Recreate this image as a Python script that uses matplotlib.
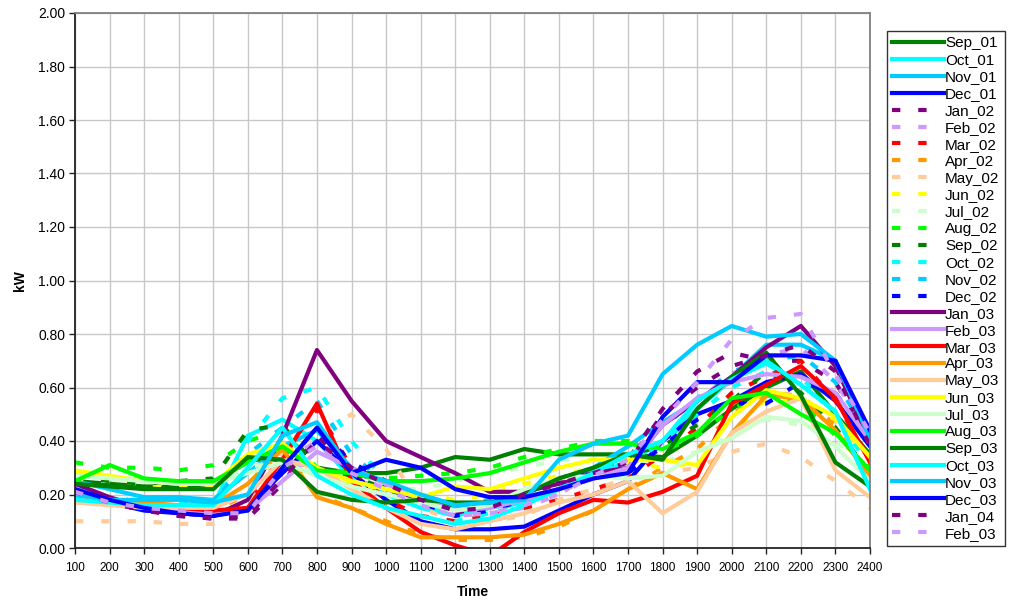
import numpy as np
import matplotlib
matplotlib.use('Agg')
import matplotlib.pyplot as plt
from matplotlib.ticker import FormatStrFormatter

plt.rcParams['font.family'] = ['Liberation Sans', 'DejaVu Sans']

# hours of the day
times = list(range(100, 2500, 100))

# average daily load profiles (kW)
sep_01 = [0.25, 0.24, 0.23, 0.23, 0.24, 0.33, 0.33, 0.30, 0.28, 0.28, 0.30, 0.34, 0.33, 0.37, 0.35, 0.35, 0.35, 0.34, 0.42, 0.52, 0.60, 0.66, 0.50, 0.35]
oct_01 = [0.19, 0.17, 0.16, 0.15, 0.16, 0.42, 0.48, 0.40, 0.26, 0.20, 0.15, 0.12, 0.15, 0.17, 0.22, 0.28, 0.32, 0.40, 0.52, 0.63, 0.69, 0.61, 0.51, 0.22]
nov_01 = [0.25, 0.22, 0.19, 0.19, 0.18, 0.28, 0.38, 0.44, 0.30, 0.24, 0.20, 0.15, 0.16, 0.18, 0.22, 0.30, 0.38, 0.47, 0.55, 0.64, 0.76, 0.76, 0.70, 0.41]
dec_01 = [0.21, 0.17, 0.14, 0.13, 0.12, 0.15, 0.28, 0.40, 0.28, 0.18, 0.10, 0.07, 0.07, 0.08, 0.14, 0.20, 0.25, 0.40, 0.50, 0.55, 0.62, 0.65, 0.55, 0.38]
jan_02 = [0.22, 0.18, 0.15, 0.12, 0.11, 0.11, 0.24, 0.42, 0.30, 0.22, 0.18, 0.13, 0.16, 0.21, 0.25, 0.30, 0.33, 0.52, 0.66, 0.73, 0.70, 0.70, 0.62, 0.40]
feb_02 = [0.20, 0.17, 0.15, 0.14, 0.13, 0.13, 0.32, 0.40, 0.26, 0.22, 0.17, 0.12, 0.13, 0.15, 0.20, 0.28, 0.30, 0.40, 0.55, 0.65, 0.72, 0.75, 0.62, 0.42]
mar_02 = [0.20, 0.18, 0.16, 0.15, 0.14, 0.16, 0.35, 0.52, 0.30, 0.18, 0.12, 0.10, 0.12, 0.15, 0.18, 0.22, 0.26, 0.35, 0.45, 0.58, 0.64, 0.70, 0.55, 0.33]
apr_02 = [0.22, 0.19, 0.17, 0.15, 0.14, 0.20, 0.38, 0.20, 0.15, 0.10, 0.05, 0.03, 0.03, 0.04, 0.08, 0.14, 0.22, 0.30, 0.37, 0.50, 0.58, 0.57, 0.46, 0.28]
may_02 = [0.10, 0.10, 0.10, 0.09, 0.09, 0.16, 0.35, 0.42, 0.50, 0.37, 0.15, 0.10, 0.10, 0.12, 0.18, 0.22, 0.26, 0.28, 0.30, 0.36, 0.39, 0.34, 0.25, 0.15]
jun_02 = [0.28, 0.26, 0.24, 0.23, 0.23, 0.32, 0.38, 0.30, 0.24, 0.22, 0.20, 0.18, 0.20, 0.24, 0.27, 0.30, 0.32, 0.30, 0.32, 0.42, 0.56, 0.55, 0.48, 0.33]
jul_02 = [0.26, 0.25, 0.24, 0.24, 0.24, 0.30, 0.33, 0.28, 0.25, 0.22, 0.22, 0.25, 0.28, 0.30, 0.33, 0.33, 0.33, 0.32, 0.36, 0.42, 0.48, 0.46, 0.40, 0.30]
aug_02 = [0.32, 0.30, 0.30, 0.29, 0.31, 0.40, 0.44, 0.30, 0.28, 0.26, 0.27, 0.28, 0.30, 0.34, 0.37, 0.40, 0.40, 0.36, 0.42, 0.52, 0.57, 0.55, 0.42, 0.30]
sep_02 = [0.27, 0.25, 0.24, 0.25, 0.26, 0.44, 0.46, 0.30, 0.27, 0.22, 0.18, 0.15, 0.16, 0.20, 0.25, 0.30, 0.35, 0.38, 0.46, 0.55, 0.66, 0.58, 0.45, 0.28]
oct_02 = [0.20, 0.18, 0.17, 0.17, 0.16, 0.40, 0.56, 0.60, 0.40, 0.25, 0.18, 0.10, 0.13, 0.18, 0.22, 0.28, 0.30, 0.40, 0.50, 0.60, 0.66, 0.64, 0.50, 0.30]
nov_02 = [0.22, 0.19, 0.17, 0.16, 0.16, 0.35, 0.45, 0.55, 0.35, 0.24, 0.20, 0.16, 0.18, 0.22, 0.26, 0.30, 0.38, 0.45, 0.56, 0.66, 0.70, 0.72, 0.62, 0.42]
dec_02 = [0.21, 0.17, 0.14, 0.13, 0.12, 0.14, 0.30, 0.45, 0.32, 0.25, 0.17, 0.12, 0.14, 0.18, 0.22, 0.26, 0.28, 0.38, 0.48, 0.54, 0.54, 0.62, 0.58, 0.40]
jan_03 = [0.24, 0.19, 0.15, 0.13, 0.12, 0.18, 0.42, 0.74, 0.55, 0.40, 0.34, 0.28, 0.21, 0.21, 0.24, 0.28, 0.30, 0.46, 0.55, 0.64, 0.75, 0.83, 0.68, 0.40]
feb_03 = [0.20, 0.17, 0.15, 0.14, 0.13, 0.14, 0.25, 0.36, 0.30, 0.24, 0.18, 0.14, 0.15, 0.18, 0.22, 0.26, 0.30, 0.46, 0.56, 0.62, 0.65, 0.64, 0.58, 0.40]
mar_03 = [0.20, 0.18, 0.16, 0.15, 0.14, 0.15, 0.33, 0.54, 0.25, 0.15, 0.06, 0.01, -0.03, 0.06, 0.13, 0.18, 0.17, 0.21, 0.27, 0.54, 0.61, 0.68, 0.56, 0.32]
apr_03 = [0.20, 0.18, 0.17, 0.16, 0.16, 0.24, 0.37, 0.19, 0.15, 0.09, 0.04, 0.04, 0.04, 0.05, 0.09, 0.14, 0.22, 0.28, 0.22, 0.43, 0.57, 0.56, 0.44, 0.27]
may_03 = [0.17, 0.16, 0.15, 0.15, 0.15, 0.20, 0.33, 0.30, 0.22, 0.15, 0.09, 0.07, 0.10, 0.13, 0.17, 0.20, 0.25, 0.13, 0.21, 0.43, 0.51, 0.56, 0.29, 0.19]
jun_03 = [0.29, 0.27, 0.25, 0.24, 0.24, 0.35, 0.39, 0.30, 0.25, 0.22, 0.19, 0.23, 0.22, 0.26, 0.30, 0.33, 0.33, 0.33, 0.31, 0.49, 0.59, 0.56, 0.49, 0.34]
jul_03 = [0.27, 0.26, 0.25, 0.24, 0.24, 0.28, 0.32, 0.27, 0.23, 0.20, 0.17, 0.14, 0.16, 0.22, 0.26, 0.27, 0.26, 0.27, 0.36, 0.41, 0.49, 0.475, 0.38, 0.25]
aug_03 = [0.25, 0.31, 0.26, 0.25, 0.25, 0.32, 0.38, 0.29, 0.28, 0.25, 0.25, 0.26, 0.28, 0.32, 0.36, 0.39, 0.39, 0.37, 0.43, 0.56, 0.58, 0.50, 0.43, 0.29]
sep_03 = [0.24, 0.23, 0.22, 0.22, 0.22, 0.34, 0.33, 0.21, 0.18, 0.17, 0.18, 0.17, 0.17, 0.20, 0.26, 0.30, 0.35, 0.33, 0.52, 0.64, 0.73, 0.57, 0.32, 0.23]
oct_03 = [0.18, 0.17, 0.16, 0.16, 0.16, 0.30, 0.45, 0.27, 0.20, 0.15, 0.12, 0.09, 0.11, 0.16, 0.22, 0.28, 0.35, 0.40, 0.55, 0.63, 0.70, 0.61, 0.51, 0.22]
nov_03 = [0.20, 0.18, 0.18, 0.18, 0.17, 0.20, 0.42, 0.47, 0.29, 0.25, 0.20, 0.16, 0.17, 0.18, 0.33, 0.39, 0.42, 0.65, 0.76, 0.83, 0.79, 0.80, 0.70, 0.41]
dec_03 = [0.22, 0.18, 0.15, 0.13, 0.12, 0.14, 0.30, 0.45, 0.28, 0.33, 0.30, 0.22, 0.19, 0.19, 0.22, 0.26, 0.28, 0.49, 0.62, 0.62, 0.72, 0.72, 0.70, 0.44]
jan_04 = [0.21, 0.17, 0.14, 0.12, 0.11, 0.12, 0.26, 0.40, 0.30, 0.24, 0.18, 0.14, 0.15, 0.20, 0.24, 0.28, 0.32, 0.50, 0.60, 0.68, 0.72, 0.76, 0.66, 0.38]
feb_03b = [0.21, 0.17, 0.15, 0.14, 0.13, 0.13, 0.30, 0.38, 0.28, 0.22, 0.16, 0.12, 0.13, 0.16, 0.20, 0.27, 0.33, 0.48, 0.62, 0.78, 0.86, 0.875, 0.65, 0.43]

labels = ['Sep_01', 'Oct_01', 'Nov_01', 'Dec_01',
          'Jan_02', 'Feb_02', 'Mar_02', 'Apr_02', 'May_02', 'Jun_02',
          'Jul_02', 'Aug_02', 'Sep_02', 'Oct_02', 'Nov_02', 'Dec_02',
          'Jan_03', 'Feb_03', 'Mar_03', 'Apr_03', 'May_03', 'Jun_03',
          'Jul_03', 'Aug_03', 'Sep_03', 'Oct_03', 'Nov_03', 'Dec_03',
          'Jan_04', 'Feb_03']
series = [sep_01, oct_01, nov_01, dec_01,
          jan_02, feb_02, mar_02, apr_02, may_02, jun_02,
          jul_02, aug_02, sep_02, oct_02, nov_02, dec_02,
          jan_03, feb_03, mar_03, apr_03, may_03, jun_03,
          jul_03, aug_03, sep_03, oct_03, nov_03, dec_03,
          jan_04, feb_03b]

# colour per calendar month (Excel palette)
month_colors = {'Jan': '#800080', 'Feb': '#CC99FF', 'Mar': '#FF0000', 'Apr': '#FF9900',
                'May': '#FFCC99', 'Jun': '#FFFF00', 'Jul': '#CCFFCC', 'Aug': '#00FF00',
                'Sep': '#008000', 'Oct': '#00FFFF', 'Nov': '#00CCFF', 'Dec': '#0000FF'}
dashed_idx = set(range(4, 16)) | {28, 29}

fig = plt.figure(figsize=(10.17, 6.03), dpi=100)
ax = fig.add_axes([75 / 1017, 55 / 603, 795 / 1017, 535 / 603])

for i, (lab, vals) in enumerate(zip(labels, series)):
    col = month_colors[lab[:3]]
    if i in dashed_idx:
        ax.plot(times, vals, color=col, lw=3, dashes=(2, 4.3), label=lab, zorder=2 + i * 0.01)
    else:
        ax.plot(times, vals, color=col, lw=3, solid_joinstyle='round', label=lab, zorder=2 + i * 0.01)

ax.set_xlim(100, 2400)
ax.set_ylim(0, 2.0)
ax.set_xticks(times)
ax.set_yticks(np.arange(0, 2.01, 0.2))
ax.yaxis.set_major_formatter(FormatStrFormatter('%.2f'))
ax.tick_params(axis='x', labelsize=8.5, length=4, width=1, color='#222222', pad=6)
ax.tick_params(axis='y', labelsize=10, length=4, width=1, color='#222222', pad=3)
ax.grid(True, color='#c8c8c8', linewidth=1)
ax.set_axisbelow(True)

for side in ['left', 'bottom']:
    ax.spines[side].set_color('#222222')
    ax.spines[side].set_linewidth(1.3)
for side in ['top', 'right']:
    ax.spines[side].set_color('#808080')
    ax.spines[side].set_linewidth(1.3)

ax.set_xlabel('Time', fontsize=10, fontweight='bold', labelpad=8)
ax.set_ylabel('kW', fontsize=10, fontweight='bold', labelpad=8)

leg = fig.legend(loc='upper left', bbox_to_anchor=(887 / 1017, 572 / 603),
                 borderaxespad=0, fontsize=11, handlelength=3.4, handletextpad=0.05,
                 labelspacing=0.19, borderpad=0.35, fancybox=False, frameon=True)
leg.get_frame().set_edgecolor('black')
leg.get_frame().set_linewidth(1)

fig.savefig('out.png', dpi=100, facecolor='white')
